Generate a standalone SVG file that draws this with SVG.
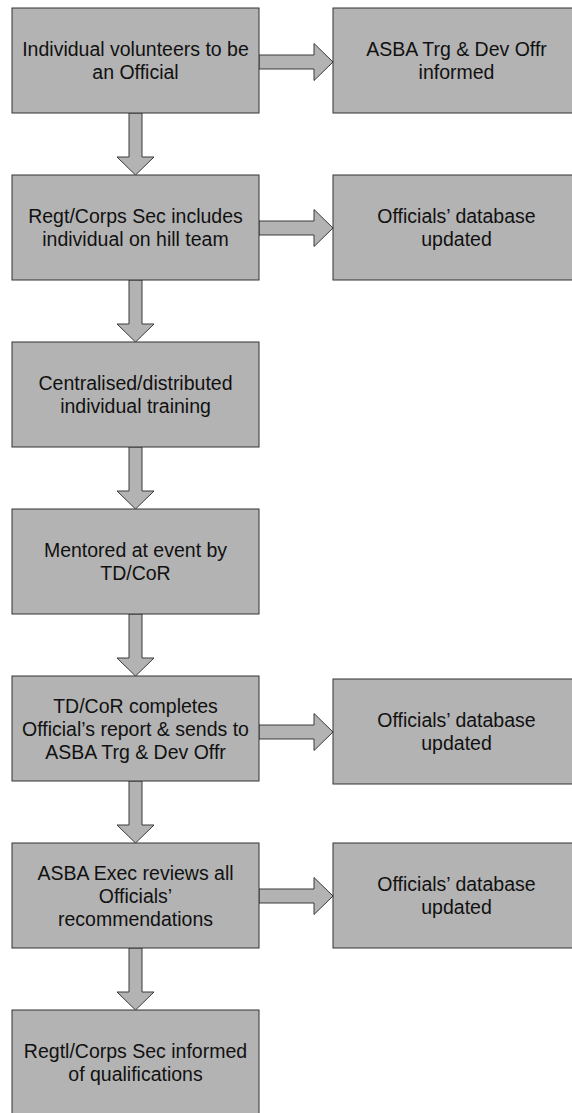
<svg xmlns="http://www.w3.org/2000/svg" xmlns:xlink="http://www.w3.org/1999/xlink" width="572" height="1113" viewBox="0 0 572 1113">
<style>
.box{fill:#b3b3b3;stroke:#333333;stroke-width:1}
.arr{fill:#b3b3b3;stroke:#3a3a3a;stroke-width:1;stroke-linejoin:miter}
.t{font-family:"Liberation Sans",Arial,sans-serif;font-size:19.5px;fill:#111111;text-anchor:middle}
</style>
<defs>
<path id="down" d="M-6.5,0 H6.5 V44 H18.5 L0,62 L-18.5,44 H-6.5 Z"/>
<path id="right" d="M0,-7 H55 V-18.5 L74,0 L55,18.5 V7 H0 Z"/>
</defs>
<rect width="572" height="1113" fill="#ffffff"/>
<g id="connectors">
<use xlink:href="#down" class="arr" transform="translate(135.5,113)"/>
<use xlink:href="#down" class="arr" transform="translate(135.5,280)"/>
<use xlink:href="#down" class="arr" transform="translate(135.5,447)"/>
<use xlink:href="#down" class="arr" transform="translate(135.5,614)"/>
<use xlink:href="#down" class="arr" transform="translate(135.5,781)"/>
<use xlink:href="#down" class="arr" transform="translate(135.5,948)"/>
<use xlink:href="#right" class="arr" transform="translate(259,62)"/>
<use xlink:href="#right" class="arr" transform="translate(259,228)"/>
<use xlink:href="#right" class="arr" transform="translate(259,732)"/>
<use xlink:href="#right" class="arr" transform="translate(259,896)"/>
</g>
<g id="n1"><rect class="box" x="12" y="8" width="247" height="105"/>
<text class="t" x="135.5" y="55.5">Individual volunteers to be<tspan x="135.5" dy="23">an Official</tspan></text></g>
<g id="n2"><rect class="box" x="12" y="175" width="247" height="105"/>
<text class="t" x="135.5" y="222.5">Regt/Corps Sec includes<tspan x="135.5" dy="23">individual on hill team</tspan></text></g>
<g id="n3"><rect class="box" x="12" y="342" width="247" height="105"/>
<text class="t" x="135.5" y="389.5">Centralised/distributed<tspan x="135.5" dy="23">individual training</tspan></text></g>
<g id="n4"><rect class="box" x="12" y="509" width="247" height="105"/>
<text class="t" x="135.5" y="556.5">Mentored at event by<tspan x="135.5" dy="23">TD/CoR</tspan></text></g>
<g id="n5"><rect class="box" x="12" y="676" width="247" height="105"/>
<text class="t" x="135.5" y="712.5">TD/CoR completes<tspan x="135.5" dy="23">Official’s report &amp; sends to</tspan><tspan x="135.5" dy="23">ASBA Trg &amp; Dev Offr</tspan></text></g>
<g id="n6"><rect class="box" x="12" y="843" width="247" height="105"/>
<text class="t" x="135.5" y="879.5">ASBA Exec reviews all<tspan x="135.5" dy="23">Officials’</tspan><tspan x="135.5" dy="23">recommendations</tspan></text></g>
<g id="n7"><rect class="box" x="12" y="1010" width="247" height="105"/>
<text class="t" x="135.5" y="1057.5">Regtl/Corps Sec informed<tspan x="135.5" dy="23">of qualifications</tspan></text></g>
<g id="r1"><rect class="box" x="333" y="8" width="247" height="105"/>
<text class="t" x="456.5" y="55.5">ASBA Trg &amp; Dev Offr<tspan x="456.5" dy="23">informed</tspan></text></g>
<g id="r2"><rect class="box" x="333" y="175" width="247" height="105"/>
<text class="t" x="456.5" y="222.5">Officials’ database<tspan x="456.5" dy="23">updated</tspan></text></g>
<g id="r3"><rect class="box" x="333" y="679" width="247" height="105"/>
<text class="t" x="456.5" y="726.5">Officials’ database<tspan x="456.5" dy="23">updated</tspan></text></g>
<g id="r4"><rect class="box" x="333" y="843" width="247" height="105"/>
<text class="t" x="456.5" y="890.5">Officials’ database<tspan x="456.5" dy="23">updated</tspan></text></g>
</svg>
